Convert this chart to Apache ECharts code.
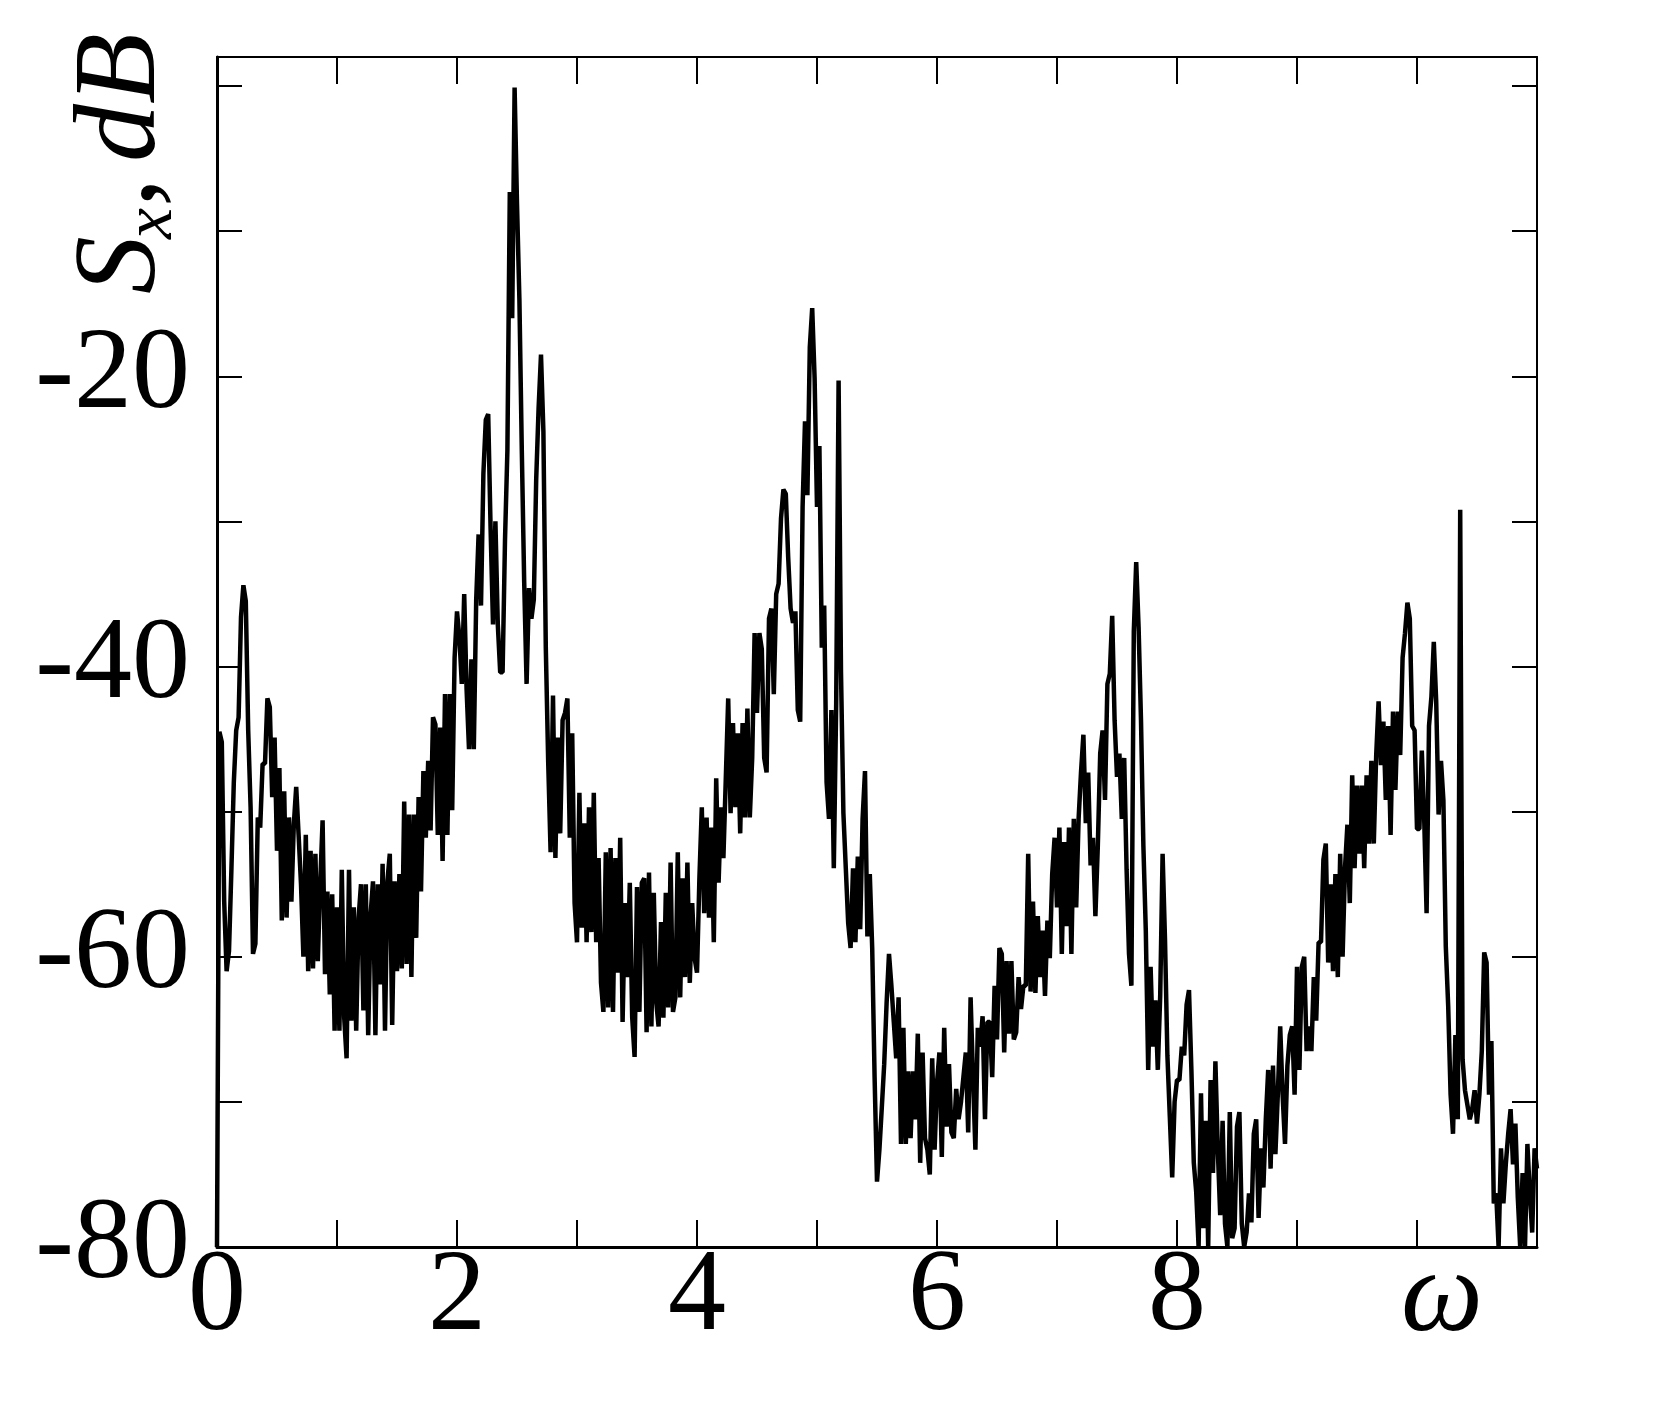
<!DOCTYPE html>
<html>
<head>
<meta charset="utf-8">
<title>S_x spectrum</title>
<script src="https://cdn.jsdelivr.net/npm/echarts@6/dist/echarts.min.js"></script>
<style>
  html, body { margin: 0; padding: 0; background: #fff; }
  #chart { width: 1664px; height: 1427px; }
</style>
</head>
<body>
<div id="chart"></div>
<script>
// frequency grid: omega = i * OMEGA_STEP
var OMEGA_STEP = 0.02;

// S_x in dB, one array per unit of omega (50 samples each)
var sx0 = [-80, -44.5, -45.2, -56.2, -61, -59.6, -54, -48, -44.4, -43.5,
  -36.6, -34.4, -35.5, -44.4, -49.7, -59.8, -59.1, -50.4, -51.1, -46.7,
  -46.7, -42.2, -42.8, -49, -44.9, -52.7, -47, -57.5, -48.6, -57.3,
  -50.4, -56.2, -50.9, -48.3, -51.6, -55, -60, -51.6, -61, -52.7,
  -60.8, -52.9, -60.3, -55, -50.6, -61.2, -55.5, -62.6, -55.7, -65.1];
var sx1 = [-56.6, -65.1, -54, -64.2, -67, -54, -64.4, -56.6, -65.1, -57.3,
  -55, -63.7, -55, -65.4, -57.1, -54.8, -65.4, -55, -61.9, -53.6,
  -65.1, -54.8, -52.9, -64.7, -54.8, -61, -54.3, -60.8, -49.3, -60.5,
  -50.2, -61.4, -50.2, -58.7, -49, -55.5, -47.2, -51.8, -46.5, -51.3,
  -43.5, -44, -51.6, -44.2, -53.4, -41.9, -51.6, -41.9, -49.9, -39.4];
var sx2 = [-36.2, -38, -41.2, -35, -41.6, -45.7, -39.5, -45.7, -35.4, -30.9,
  -35.8, -26.7, -23, -22.6, -30.5, -37.1, -30, -37.1, -40.4, -40.4,
  -31.3, -25.1, -7.3, -16, -0.1, -8.1, -14.7, -25.1, -34.2, -41.2,
  -34.6, -36.7, -35.4, -27.1, -22.2, -18.5, -23.8, -38.7, -46.6, -52.8,
  -42, -53.2, -44.9, -51.5, -43.7, -43.2, -42.2, -51.8, -44.6, -56.3];
var sx3 = [-59, -48.7, -58, -50.8, -59, -49.7, -58.3, -48.7, -59, -53.2,
  -61.8, -63.8, -52.8, -63.5, -52.5, -63.8, -53.2, -61.1, -51.8, -64.5,
  -56.3, -61.4, -54.9, -64.2, -66.9, -55.2, -63.8, -54.9, -54.6, -65.2,
  -54.2, -64.8, -55.6, -63.1, -64.8, -57.6, -64.2, -55.6, -63.5, -53.5,
  -63.8, -62.8, -52.8, -62.8, -54.6, -61.4, -53.5, -61.8, -56.3, -60.1];
var sx4 = [-61.1, -54.6, -49.7, -57, -50.4, -57.3, -51.1, -59, -47.7, -54.9,
  -49.7, -53.2, -47.7, -42.2, -50.1, -43.9, -49.7, -44.6, -51.5, -43.9,
  -50.4, -42.9, -50.4, -46.3, -37.7, -43.2, -37.7, -38.8, -46.3, -47.3,
  -36.7, -36, -41.9, -35, -34.3, -29.8, -27.8, -28.1, -32.5, -36,
  -37, -36.2, -43, -43.8, -29, -23.1, -28.2, -18, -15.3, -20.1];
var sx5 = [-29, -24.8, -38.7, -35.8, -48, -50.5, -43, -53.9, -42.5, -20.3,
  -40.4, -50.1, -53.9, -57.7, -59.4, -53.9, -59, -53.1, -58.1, -50.5,
  -47.2, -58.6, -54.3, -59.4, -68.3, -75.5, -73.3, -70.4, -67.4, -63.2,
  -59.8, -62, -64.5, -67, -62.8, -72.9, -64.9, -72.9, -67.9, -72.5,
  -67.9, -71.2, -65.3, -74.2, -66.6, -72.5, -73.3, -75, -67, -73.3];
var sx6 = [-68.7, -66.6, -73.8, -64.9, -71.7, -67.4, -72.1, -72.5, -69.1, -71.2,
  -70, -68.3, -66.6, -72.1, -62.8, -68.3, -73.3, -64.9, -66.2, -64.1,
  -71.2, -64.5, -64.5, -68.3, -62, -65.7, -59.4, -59.8, -66.6, -60.3,
  -65.3, -60.3, -65.7, -65.2, -61.4, -63.6, -62, -62, -52.9, -62.4,
  -56.2, -62.5, -57.2, -61.4, -58.2, -62.7, -57.5, -60.1, -54.3, -51.8];
var sx7 = [-56.6, -51.1, -59.8, -52.1, -57.9, -51.1, -59.8, -50.5, -56.6, -50.5,
  -47.3, -44.7, -50.8, -47.3, -53.7, -51.8, -57.2, -52.4, -46, -44.4,
  -49.2, -41.2, -40.5, -36.5, -43.7, -47.6, -46, -50.5, -46.3, -54,
  -59.8, -62, -37.6, -32.8, -37.3, -43.7, -52.4, -58.2, -67.8, -60.7,
  -66.2, -63, -67.8, -62.7, -52.9, -58.8, -66.8, -71, -75.2, -70];
var sx8 = [-68.5, -68.5, -66.2, -66.8, -63.3, -62.3, -67.8, -74.2, -76.2, -80,
  -69.4, -78.7, -71.3, -80, -68.5, -74.9, -67.2, -73.3, -77.8, -71.3,
  -78.4, -80, -70.7, -79.4, -78.7, -71.7, -70.7, -78.4, -80, -79,
  -76.3, -78.3, -72.2, -71.2, -78, -73.2, -75.9, -71.2, -67.8, -74.6,
  -67.5, -73.6, -69.5, -64.8, -69.5, -72.9, -67.5, -65.4, -64.8, -69.5];
var sx9 = [-60.7, -67.8, -60.7, -60, -66.5, -64.8, -66.5, -61.4, -64.4, -59,
  -59, -53.3, -52.2, -60.4, -55, -61, -54.3, -61.4, -52.9, -60,
  -53.9, -50.9, -56.3, -47.5, -53.9, -48.2, -52.9, -48.2, -53.9, -47.5,
  -52.2, -46.5, -52.2, -46.1, -42.4, -46.8, -43.8, -49.2, -44.1, -51.6,
  -43.1, -48.5, -43.1, -46.1, -39.4, -37.7, -35.6, -36.7, -44.1, -44.4];
var sx10 = [-51.2, -51.2, -45.8, -50.5, -57, -44.1, -42.1, -38.3, -42.4, -50.2,
  -46.5, -49.2, -59.3, -63.4, -69.5, -72.2, -65.4, -71.2, -29.2, -67.1,
  -69.2, -70.2, -71.2, -70.5, -69.2, -71.5, -69.5, -66.5, -59.7, -60.4,
  -69.5, -65.8, -77, -76.3, -80, -73.2, -77, -74.3, -72.2, -70.5,
  -74.3, -71.5, -76.6, -80, -74.9, -80, -72.9, -76.3, -79, -73.2];
var sx11 = [-74.6];

// axis ticks and labels
var xLabels = {0: '0', 2: '2', 4: '4', 6: '6', 8: '8', 10: '{w|ω}'};
var yLabels = [-20, -40, -60, -80];

var sx = [].concat(sx0, sx1, sx2, sx3, sx4, sx5, sx6, sx7, sx8, sx9, sx10, sx11);
var points = sx.map(function (v, i) {
  return [+(i * OMEGA_STEP).toFixed(2), v];
});

var FONT = 'Liberation Serif';
var FS = 116;

// rotated y title pieces: S, subscript x, comma, dB
function titlePart(text, x, y, size, italic) {
  return {
    type: 'text', x: x, y: y, rotation: Math.PI / 2,
    style: {
      text: text, fill: '#000', align: 'left', verticalAlign: 'middle',
      font: (italic ? 'italic ' : '') + size + 'px "' + FONT + '"'
    }
  };
}

var myChart = echarts.init(document.getElementById('chart'));
var option = {
  animation: false,
  backgroundColor: '#fff',
  grid: { left: 217, right: 127, top: 57, bottom: 180 },
  xAxis: [{
    type: 'value', min: 0, max: 11, interval: 1, position: 'bottom',
    axisLine: { onZero: false, lineStyle: { color: '#000', width: 3 } },
    axisTick: { inside: true, length: 27, lineStyle: { color: '#000', width: 2 } },
    splitLine: { show: false },
    axisLabel: {
      margin: -6,
      color: '#000', fontFamily: FONT, fontSize: FS,
      formatter: function (v) { return xLabels[v] || ''; },
      rich: {
        w: { fontFamily: FONT, fontSize: FS, fontStyle: 'italic', color: '#000',
             padding: [0, 0, 0, 50] }
      }
    }
  }, {
    type: 'value', min: 0, max: 11, interval: 1, position: 'top',
    axisLine: { onZero: false, lineStyle: { color: '#000', width: 2 } },
    axisTick: { inside: true, length: 27, lineStyle: { color: '#000', width: 2 } },
    axisLabel: { show: false },
    splitLine: { show: false }
  }],
  yAxis: [{
    type: 'value', min: -80, max: 2, interval: 10, position: 'left',
    axisLine: { onZero: false, lineStyle: { color: '#000', width: 3 } },
    axisTick: { inside: true, length: 25, lineStyle: { color: '#000', width: 2 } },
    splitLine: { show: false },
    axisLabel: {
      margin: 27,
      color: '#000', fontFamily: FONT, fontSize: FS,
      padding: [0, 0, 30, 0],
      formatter: function (v) { return yLabels.indexOf(v) >= 0 ? String(v) : ''; }
    }
  }, {
    type: 'value', min: -80, max: 2, interval: 10, position: 'right',
    axisLine: { onZero: false, lineStyle: { color: '#000', width: 2 } },
    axisTick: { inside: true, length: 25, lineStyle: { color: '#000', width: 2 } },
    axisLabel: { show: false },
    splitLine: { show: false }
  }],
  graphic: [
    titlePart('S', 123, 294, FS, true),
    titlePart('x', 153, 239, 70, true),
    titlePart(',', 123, 207, FS, false),
    titlePart('dB', 123, 162, FS, true)
  ],
  series: [{
    type: 'line',
    xAxisIndex: 0, yAxisIndex: 0,
    data: points,
    showSymbol: false,
    lineStyle: { color: '#000', width: 4.5 },
    clip: true
  }]
};
myChart.setOption(option);
</script>
</body>
</html>
